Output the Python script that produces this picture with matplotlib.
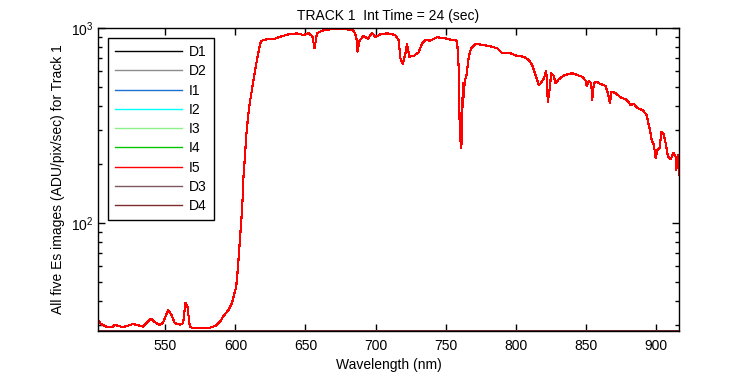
import numpy as np
import matplotlib
matplotlib.use('Agg')
import matplotlib.pyplot as plt
from matplotlib.ticker import LogLocator, MultipleLocator, NullFormatter

plt.rcParams['font.family'] = ['Liberation Sans', 'DejaVu Sans']
plt.rcParams['font.size'] = 10

# wavelength (nm) and Es signal (ADU/pix/sec)
wl = [502.0, 504.4, 507.9, 512.7, 513.9, 519.9, 527.0, 534.1, 539.6, 543.6,
      546.1, 548.4, 552.0, 554.4, 556.8, 560.4, 562.7, 564.4, 565.8, 567.5,
      569.9, 580.6, 585.6, 589.1, 591.5, 595.1, 597.5, 599.4, 600.6, 601.8,
      602.9, 603.9, 604.9, 605.8, 606.8, 607.7, 608.6, 609.6, 610.6, 611.8,
      612.9, 614.1, 615.4, 616.5, 617.7, 618.9, 622.5, 628.4, 632.0, 637.9,
      643.9, 648.6, 652.2, 654.9, 656.5, 658.2, 661.8, 667.7, 679.6, 684.4,
      686.3, 687.2, 688.6, 691.5, 694.6, 697.5, 699.9, 703.4, 708.2, 714.1,
      716.5, 717.7, 719.4, 721.3, 722.5, 724.1, 727.2, 730.8, 733.2, 735.6,
      739.1, 743.9, 749.9, 754.6, 758.2, 759.4, 760.1, 761.1, 761.8, 762.2,
      762.9, 763.6, 764.9, 766.5, 768.2, 771.3, 777.2, 783.2, 786.8, 790.4,
      795.1, 801.1, 805.8, 809.4, 811.8, 814.1, 816.5, 818.2, 820.1, 821.8,
      822.9, 824.1, 825.4, 827.2, 828.4, 830.8, 834.9, 840.4, 847.5, 849.9,
      850.6, 852.2, 853.9, 854.6, 855.8, 857.7, 860.6, 864.1, 865.8, 867.2,
      868.4, 871.3, 874.9, 878.4, 880.8, 882.0, 884.4, 886.8, 890.4, 893.4,
      894.4, 895.8, 897.0, 898.6, 899.9, 901.1, 902.7, 903.9, 905.4, 907.0,
      908.6, 910.6, 912.5, 914.1, 914.6, 915.8, 916.8]
es = [31.6, 30.2, 29.4, 29.4, 30.0, 29.2, 30.3, 29.4, 32.3, 30.6,
      30.0, 30.8, 35.8, 33.7, 30.6, 30.1, 30.6, 39.0, 37.2, 29.4,
      28.8, 28.8, 29.6, 31.2, 33.3, 35.8, 38.7, 43.6, 47.1, 58.6,
      75.5, 95.7, 121, 173, 219, 277, 325, 380, 427, 481,
      541, 609, 685, 756, 835, 861, 875, 882, 903, 928,
      939, 921, 939, 910, 787, 939, 969, 985, 985, 969,
      903, 756, 861, 913, 878, 946, 896, 928, 939, 921,
      868, 699, 652, 742, 828, 713, 718, 751, 835, 868,
      861, 896, 885, 868, 861, 614, 288, 242, 283, 520,
      444, 531, 574, 713, 787, 828, 818, 802, 787, 742,
      747, 718, 713, 685, 646, 574, 510, 524, 552, 604,
      419, 481, 586, 567, 520, 546, 574, 586, 562, 537,
      504, 537, 520, 427, 520, 531, 516, 504, 463, 411,
      472, 463, 441, 431, 414, 403, 408, 388, 380, 358,
      331, 300, 267, 251, 215, 237, 242, 294, 288, 256,
      219, 212, 229, 219, 187, 223, 176]

# dark frames sit flat at the floor of the axis
dark_wl = [502.0, 916.8]
dark_level = [28.0, 28.0]

names = ['D1', 'D2', 'I1', 'I2', 'I3', 'I4', 'I5', 'D3', 'D4']
colors = ['#000000', '#8c8c8c', '#1e6fd2', '#00ffff', '#8cf08c',
          '#00c800', '#ff0000', '#7d5a5f', '#7d2d2d']

fig = plt.figure(figsize=(7.5, 3.75), dpi=100)
ax = fig.add_axes([0.1307, 0.1173, 0.7746, 0.808])

for name, c in zip(names, colors):
    if name.startswith('D'):
        ax.plot(dark_wl, dark_level, color=c, lw=0.8, label=name, antialiased=False)
    else:
        ax.plot(wl, es, color=c, lw=0.8, label=name, antialiased=False)

ax.set_yscale('log')
ax.set_xlim(502, 916.5)
ax.set_ylim(27.9, 1000)
ax.xaxis.set_major_locator(MultipleLocator(50))
ax.yaxis.set_major_locator(LogLocator(base=10, numticks=5))
ax.yaxis.set_minor_locator(LogLocator(base=10, subs=np.arange(2, 10), numticks=20))
ax.yaxis.set_minor_formatter(NullFormatter())
ax.tick_params(which='both', direction='in', top=True, right=True, width=1)
ax.tick_params(which='major', length=5)
ax.tick_params(which='minor', length=3)
ax.tick_params(axis='x', pad=6)
for s in ax.spines.values():
    s.set_linewidth(1)

ax.set_title('TRACK 1  Int Time = 24 (sec)', fontsize=10, pad=6)
ax.set_xlabel('Wavelength (nm)', labelpad=3)
ax.set_ylabel('All five Es images (ADU/pix/sec) for Track 1', labelpad=4)

leg = ax.legend(loc='upper left', bbox_to_anchor=(0.017, 0.967), handlelength=4.8,
                labelspacing=0.38, fancybox=False, framealpha=1, borderpad=0.5,
                handletextpad=0.55, borderaxespad=0)
leg.get_frame().set_edgecolor('black')
leg.get_frame().set_linewidth(1)
for line in leg.get_lines():
    line.set_linewidth(1)

fig.savefig('out.png', dpi=100)
